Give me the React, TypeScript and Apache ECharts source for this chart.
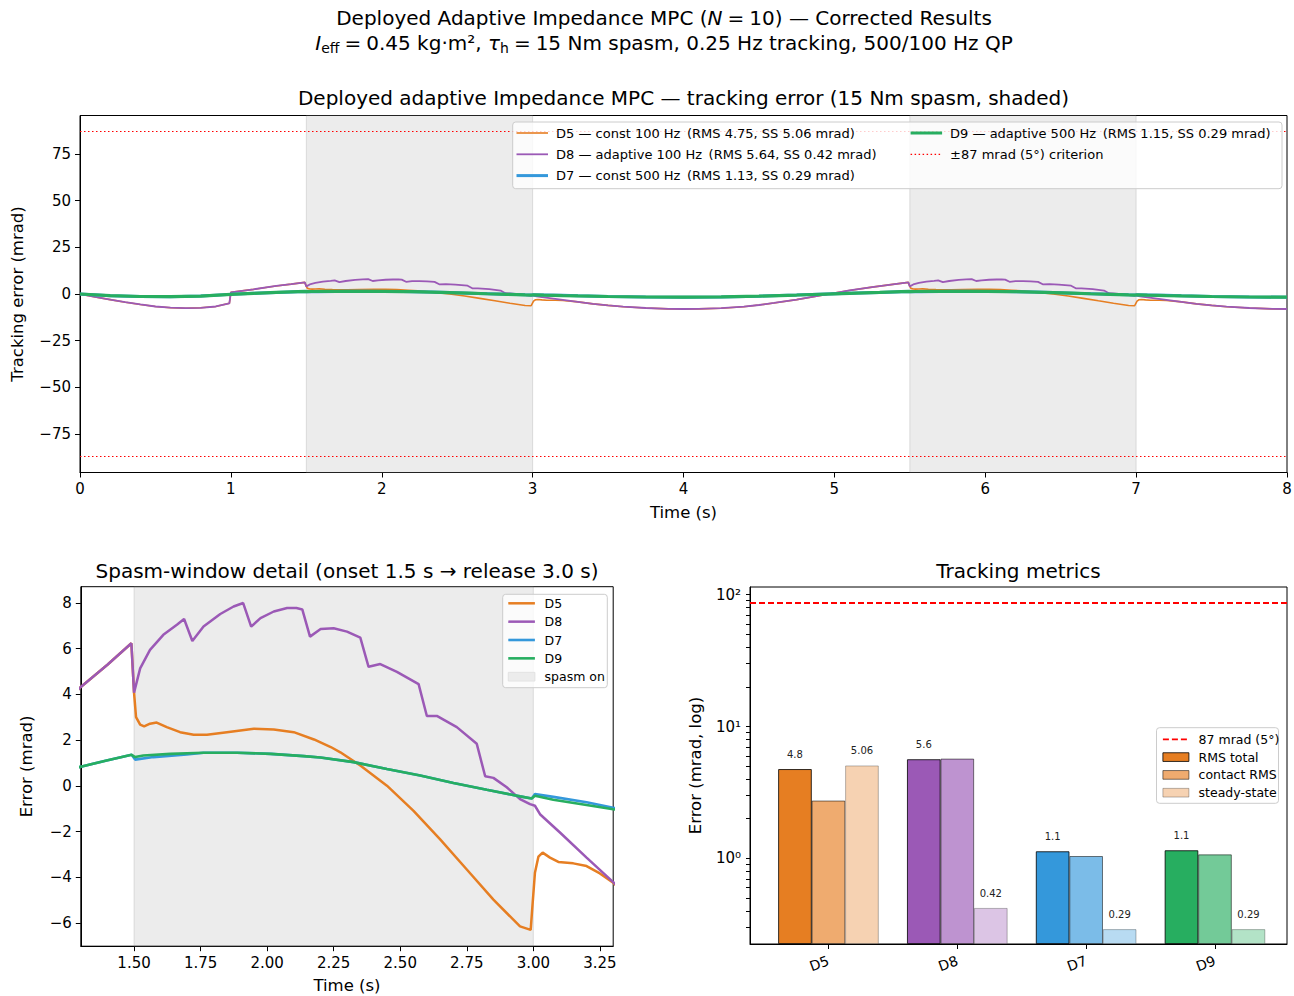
import React, { useEffect, useRef } from 'react';
import * as echarts from 'echarts';

// ---------------- data ----------------
const GROUPS = ['D5', 'D8', 'D7', 'D9'];
const DESCS = ['const 100 Hz', 'adaptive 100 Hz', 'const 500 Hz', 'adaptive 500 Hz'];
const RMS_TOTAL = [4.75, 5.64, 1.13, 1.15];
const CONTACT_RMS = [2.74, 5.7, 1.04, 1.07];
const STEADY_STATE = [5.06, 0.42, 0.29, 0.29];
const CRITERION = 87;
const SPASM_WINDOWS = [[1.5, 3.0], [5.5, 7.0]];

const TOP_X_TICKS = [0, 1, 2, 3, 4, 5, 6, 7, 8];
const TOP_Y_TICKS = [-75, -50, -25, 0, 25, 50, 75];
const DETAIL_X_TICKS = [1.5, 1.75, 2.0, 2.25, 2.5, 2.75, 3.0, 3.25];
const DETAIL_Y_TICKS = [-6, -4, -2, 0, 2, 4, 6, 8];
const LOG_MAJOR = [1, 10, 100];
const LOG_MINOR = [0.3, 0.4, 0.5, 0.6, 0.7, 0.8, 0.9, 2, 3, 4, 5, 6, 7, 8, 9, 20, 30, 40, 50, 60, 70, 80, 90];

// D5 and D8 (both 100 Hz) coincide outside the spasm windows
const D58_PRE = [[0, 0], [0.1, -1.6], [0.2, -3.0], [0.3, -4.4], [0.4, -5.6], [0.5, -6.7], [0.6, -7.35], [0.7, -7.6], [0.8, -7.4], [0.9, -6.7], [0.99, -5.0], [1.0, 0.9], [1.15, 2.5], [1.3, 4.33], [1.4, 5.3], [1.49, 6.24]];
const D58_MID = [[3.4, -5.3], [3.5, -6.1], [3.6, -6.8], [3.75, -7.5], [3.9, -7.95], [4.0, -8.05], [4.1, -8.0], [4.25, -7.6], [4.4, -6.8], [4.5, -5.9], [4.6, -4.8], [4.75, -3.0], [4.9, -0.9], [5.0, 0.5], [5.1, 1.9], [5.25, 3.7], [5.4, 5.3], [5.49, 6.24]];
const D58_TAIL = [[7.4, -5.3], [7.5, -6.1], [7.6, -6.8], [7.75, -7.5], [7.9, -7.95], [8.0, -8.05]];

const D8_SPASM1 = [[1.5, 4.08], [1.523, 5.14], [1.56, 5.95], [1.61, 6.61], [1.661, 7.05], [1.688, 7.3], [1.719, 6.34], [1.761, 6.97], [1.824, 7.52], [1.874, 7.85], [1.91, 8.0], [1.94, 6.97], [1.975, 7.34], [2.025, 7.63], [2.075, 7.78], [2.11, 7.78], [2.132, 7.72], [2.161, 6.53], [2.201, 6.86], [2.25, 6.9], [2.3, 6.75], [2.35, 6.49], [2.381, 5.21], [2.425, 5.33], [2.4875, 4.99], [2.569, 4.45], [2.6, 3.06], [2.6375, 3.06], [2.7125, 2.57], [2.7875, 1.84], [2.819, 0.42], [2.85, 0.35], [2.9, -0.06], [2.95, -0.58], [2.9875, -0.8], [3.006, -0.87], [3.025, -1.24], [3.1, -2.04], [3.2, -3.14], [3.3, -4.21]];
const D8_SPASM2 = [[5.5, 4.08], [5.523, 5.14], [5.56, 5.95], [5.61, 6.61], [5.661, 7.05], [5.688, 7.3], [5.719, 6.34], [5.761, 6.97], [5.824, 7.52], [5.874, 7.85], [5.91, 8.0], [5.94, 6.97], [5.975, 7.34], [6.025, 7.63], [6.075, 7.78], [6.11, 7.78], [6.132, 7.72], [6.161, 6.53], [6.201, 6.86], [6.25, 6.9], [6.3, 6.75], [6.35, 6.49], [6.381, 5.21], [6.425, 5.33], [6.4875, 4.99], [6.569, 4.45], [6.6, 3.06], [6.6375, 3.06], [6.7125, 2.57], [6.7875, 1.84], [6.819, 0.42], [6.85, 0.35], [6.9, -0.06], [6.95, -0.58], [6.9875, -0.8], [7.006, -0.87], [7.025, -1.24], [7.1, -2.04], [7.2, -3.14], [7.3, -4.21]];

const D5_SPASM1 = [[1.5, 4.08], [1.5075, 3.01], [1.523, 2.68], [1.538, 2.6], [1.56, 2.72], [1.585, 2.77], [1.623, 2.57], [1.673, 2.35], [1.724, 2.24], [1.774, 2.24], [1.849, 2.35], [1.95, 2.5], [2.025, 2.47], [2.1, 2.35], [2.176, 2.03], [2.239, 1.7], [2.275, 1.47], [2.35, 0.89], [2.45, 0.01], [2.55, -1.09], [2.65, -2.34], [2.75, -3.66], [2.85, -4.98], [2.95, -6.15], [2.99, -6.3], [2.9975, -5.12], [3.006, -3.8], [3.019, -3.1], [3.035, -2.92], [3.0625, -3.14], [3.094, -3.33], [3.15, -3.39], [3.2, -3.51], [3.25, -3.83], [3.3, -4.24]];
const D5_SPASM2 = [[5.5, 4.08], [5.5075, 3.01], [5.523, 2.68], [5.538, 2.6], [5.56, 2.72], [5.585, 2.77], [5.623, 2.57], [5.673, 2.35], [5.724, 2.24], [5.774, 2.24], [5.849, 2.35], [5.95, 2.5], [6.025, 2.47], [6.1, 2.35], [6.176, 2.03], [6.239, 1.7], [6.275, 1.47], [6.35, 0.89], [6.45, 0.01], [6.55, -1.09], [6.65, -2.34], [6.75, -3.66], [6.85, -4.98], [6.95, -6.15], [6.99, -6.3], [6.9975, -5.12], [7.006, -3.8], [7.019, -3.1], [7.035, -2.92], [7.0625, -3.14], [7.094, -3.33], [7.15, -3.39], [7.2, -3.51], [7.25, -3.83], [7.3, -4.24]];

// D7 and D9 (both 500 Hz) coincide outside the spasm edges
const D79_PRE = [[0, 0], [0.2, -0.9], [0.4, -1.35], [0.6, -1.45], [0.8, -1.1], [1.0, -0.2], [1.15, 0.35], [1.3, 0.84], [1.397, 1.11], [1.491, 1.36]];
const D79_MID = [[3.5, -1.35], [3.75, -1.62], [4.0, -1.72], [4.25, -1.55], [4.5, -1.15], [4.75, -0.55], [5.0, 0.1], [5.15, 0.5], [5.3, 0.84], [5.397, 1.11], [5.491, 1.36]];
const D79_TAIL = [[7.5, -1.35], [7.75, -1.62], [8.0, -1.72]];

const D9_SPASM1 = [[1.504, 1.26], [1.535, 1.33], [1.636, 1.4], [1.761, 1.45], [1.887, 1.45], [2.013, 1.4], [2.138, 1.3], [2.2, 1.24], [2.325, 1.04], [2.45, 0.74], [2.575, 0.45], [2.7, 0.13], [2.825, -0.17], [2.95, -0.46], [2.994, -0.55], [3.006, -0.43], [3.075, -0.61], [3.2, -0.84], [3.3, -1.02]];
const D9_SPASM2 = [[5.504, 1.26], [5.535, 1.33], [5.636, 1.4], [5.761, 1.45], [5.887, 1.45], [6.013, 1.4], [6.138, 1.3], [6.2, 1.24], [6.325, 1.04], [6.45, 0.74], [6.575, 0.45], [6.7, 0.13], [6.825, -0.17], [6.95, -0.46], [6.994, -0.55], [7.006, -0.43], [7.075, -0.61], [7.2, -0.84], [7.3, -1.02]];
const D7_SPASM1 = [[1.504, 1.15], [1.573, 1.26], [1.698, 1.37], [1.761, 1.45], [1.887, 1.45], [2.013, 1.4], [2.138, 1.3], [2.2, 1.24], [2.325, 1.04], [2.45, 0.74], [2.575, 0.45], [2.7, 0.13], [2.825, -0.17], [2.95, -0.46], [2.994, -0.55], [3.006, -0.36], [3.075, -0.48], [3.2, -0.72], [3.3, -0.96]];
const D7_SPASM2 = [[5.504, 1.15], [5.573, 1.26], [5.698, 1.37], [5.761, 1.45], [5.887, 1.45], [6.013, 1.4], [6.138, 1.3], [6.2, 1.24], [6.325, 1.04], [6.45, 0.74], [6.575, 0.45], [6.7, 0.13], [6.825, -0.17], [6.95, -0.46], [6.994, -0.55], [7.006, -0.36], [7.075, -0.48], [7.2, -0.72], [7.3, -0.96]];

const D5 = [...D58_PRE, ...D5_SPASM1, ...D58_MID, ...D5_SPASM2, ...D58_TAIL];
const D8 = [...D58_PRE, ...D8_SPASM1, ...D58_MID, ...D8_SPASM2, ...D58_TAIL];
const D7 = [...D79_PRE, ...D7_SPASM1, ...D79_MID, ...D7_SPASM2, ...D79_TAIL];
const D9 = [...D79_PRE, ...D9_SPASM1, ...D79_MID, ...D9_SPASM2, ...D79_TAIL];
const SERIES_DATA = [D5, D8, D7, D9];

// ---------------- styling ----------------
const FONT = 'DejaVu Sans';
const COLORS = ['#e67e22', '#9b59b6', '#3498db', '#27ae60'];
const TOP_WIDTHS = [1.6, 1.8, 3.0, 3.2];
const DETAIL_WIDTHS = [2.5, 2.5, 2.6, 2.6];
const CONTACT_ALPHA = 0.65;
const SS_ALPHA = 0.35;
const TICK_FS = 15;
const NAME_FS = 16.5;
const TITLE_FS = 20;

function blend(hex: string, a: number) {
  const n = parseInt(hex.slice(1), 16);
  const r = (n >> 16) & 255, g = (n >> 8) & 255, b = n & 255;
  const f = (c: number) => Math.round(c * a + 255 * (1 - a));
  return `rgb(${f(r)},${f(g)},${f(b)})`;
}
const minus = (v: number) => (v < 0 ? '\u2212' + Math.abs(v) : String(v));
const SUP: Record<string, string> = { '-': '\u207b', '0': '\u2070', '1': '\u00b9', '2': '\u00b2', '3': '\u00b3' };
const logLabel = (v: number) => {
  const e = Math.log10(v);
  if (Math.abs(e - Math.round(e)) > 1e-6) return '';
  return '10' + String(Math.round(e)).split('').map((c) => SUP[c] ?? c).join('');
};

const TOP_NAMES = GROUPS.map((g, i) => `${g} \u2014 ${DESCS[i]}\u2002(RMS ${RMS_TOTAL[i].toFixed(2)}, SS ${STEADY_STATE[i].toFixed(2)} mrad)`);
const CRIT_NAME = `\u00b1${CRITERION} mrad (5\u00b0) criterion`;
const CRIT_NAME_BR = `${CRITERION} mrad (5\u00b0)`;

const tickLabel = { color: '#000', fontSize: TICK_FS, fontFamily: FONT };
const axisNameStyle = { color: '#000', fontSize: NAME_FS, fontFamily: FONT };
const blackLine = { lineStyle: { color: '#000', width: 1 } };
const axisLineCfg = { show: true, onZero: false, lineStyle: { color: '#000', width: 1 } };
const NO_SYMBOL = { color: 'transparent', borderWidth: 0, opacity: 0 };

function buildOption() {
  const grids = [
    { left: 80, top: 115.5, width: 1207, height: 357 },
    { left: 80.8, top: 586.7, width: 532.4, height: 359.5 },
    { left: 750, top: 587, width: 537, height: 357 },
  ].map((g) => ({ ...g, show: true, borderColor: '#000', borderWidth: 1, backgroundColor: 'transparent', containLabel: false, outerBoundsMode: 'none' }));

  const xAxis = [
    {
      gridIndex: 0, type: 'value', min: 0, max: 8, interval: 1,
      axisLine: axisLineCfg, axisTick: { show: true, length: 5, ...blackLine },
      axisLabel: { ...tickLabel, margin: 9, customValues: TOP_X_TICKS, formatter: (v: number) => String(v) },
      splitLine: { show: false },
      name: 'Time (s)', nameLocation: 'middle', nameGap: 31, nameTextStyle: axisNameStyle,
    },
    {
      gridIndex: 1, type: 'value', min: 1.3, max: 3.3,
      axisLine: axisLineCfg, axisTick: { show: true, length: 5, customValues: DETAIL_X_TICKS, ...blackLine },
      axisLabel: { ...tickLabel, margin: 9, customValues: DETAIL_X_TICKS, formatter: (v: number) => v.toFixed(2) },
      splitLine: { show: false },
      name: 'Time (s)', nameLocation: 'middle', nameGap: 31, nameTextStyle: axisNameStyle,
    },
    {
      gridIndex: 2, type: 'value', min: -0.609, max: 3.559,
      axisLine: axisLineCfg, axisTick: { show: true, length: 5, customValues: [0, 1, 2, 3], ...blackLine },
      axisLabel: { ...tickLabel, fontSize: 14, margin: 16, rotate: 20, customValues: [0, 1, 2, 3], formatter: (v: number) => GROUPS[Math.round(v)] ?? '' },
      splitLine: { show: false },
    },
  ];

  const LOG_ALL = [...LOG_MAJOR, ...LOG_MINOR].sort((a, b) => a - b);
  const yAxis = [
    {
      gridIndex: 0, type: 'value', min: -95.7, max: 95.7, position: 'left',
      axisLine: axisLineCfg, axisTick: { show: true, length: 5, customValues: TOP_Y_TICKS, ...blackLine },
      axisLabel: { ...tickLabel, margin: 9, customValues: TOP_Y_TICKS, formatter: minus },
      splitLine: { show: false },
      name: 'Tracking error (mrad)', nameLocation: 'middle', nameGap: 54, nameTextStyle: axisNameStyle,
    },
    {
      gridIndex: 1, type: 'value', min: -7.015, max: 8.715, position: 'left',
      axisLine: axisLineCfg, axisTick: { show: true, length: 5, customValues: DETAIL_Y_TICKS, ...blackLine },
      axisLabel: { ...tickLabel, margin: 9, customValues: DETAIL_Y_TICKS, formatter: minus },
      splitLine: { show: false },
      name: 'Error (mrad)', nameLocation: 'middle', nameGap: 46, nameTextStyle: axisNameStyle,
    },
    {
      gridIndex: 2, type: 'log', logBase: 10, min: 0.224, max: 114.4, startValue: 0.224, position: 'left',
      axisLine: axisLineCfg, axisTick: { show: true, length: 4, customValues: LOG_ALL, ...blackLine },
      axisLabel: { ...tickLabel, margin: 9, customValues: LOG_ALL, formatter: logLabel, showMinLabel: true, showMaxLabel: true, hideOverlap: false },
      splitLine: { show: false }, minorTick: { show: false },
      name: 'Error (mrad, log)', nameLocation: 'middle', nameGap: 46, nameTextStyle: axisNameStyle,
    },
  ];

  const spasmArea = (windows: number[][]) => ({
    silent: true,
    itemStyle: { color: 'rgba(128,128,128,0.15)', borderColor: 'rgba(128,128,128,0.22)', borderWidth: 1 },
    data: windows.map(([a, b]) => [{ xAxis: a }, { xAxis: b }]),
  });

  const line = (name: string, data: number[][], color: string, width: number, idx: number, extra: any = {}) => ({
    type: 'line', name, data, xAxisIndex: idx, yAxisIndex: idx, symbol: 'none', showSymbol: false,
    lineStyle: { color, width }, itemStyle: { color }, silent: true, animation: false, ...extra,
  });

  const series: any[] = [];
  // top panel
  SERIES_DATA.forEach((d, i) => {
    const extra: any = {};
    if (i === 0) {
      extra.markArea = spasmArea(SPASM_WINDOWS);
      extra.markLine = {
        silent: true, symbol: ['none', 'none'], label: { show: false },
        lineStyle: { color: '#ff0000', width: 1.2, type: [1.5, 2.5] },
        data: [{ yAxis: CRITERION }, { yAxis: -CRITERION }],
      };
    }
    series.push(line(TOP_NAMES[i], d, COLORS[i], TOP_WIDTHS[i], 0, extra));
  });
  series.push(line(CRIT_NAME, [], '#ff0000', 1.2, 0, { lineStyle: { color: '#ff0000', width: 1.2, type: [1.5, 2.5] } }));

  // detail panel
  SERIES_DATA.forEach((d, i) => {
    const extra: any = {};
    if (i === 0) extra.markArea = spasmArea(SPASM_WINDOWS.filter(([a]) => a < 3.3));
    series.push(line(GROUPS[i], d, COLORS[i], DETAIL_WIDTHS[i], 1, extra));
  });
  series.push(line('spasm on', [], '#ececec', 1, 1, { itemStyle: { color: '#ececec', borderColor: '#dedede', borderWidth: 1 } }));

  // metrics panel
  const barBase = { type: 'bar', xAxisIndex: 2, yAxisIndex: 2, barWidth: 33.5, barGap: '0%', silent: true, animation: false };
  const barLabel = (fmt: (v: number) => string) => ({
    show: true, position: 'top', distance: 10, fontSize: 10, color: '#222', fontFamily: FONT,
    formatter: (p: any) => fmt(p.value[1]),
  });
  series.push({
    ...barBase, name: 'RMS total',
    itemStyle: { color: COLORS[0], borderColor: '#000', borderWidth: 0.8 },
    data: RMS_TOTAL.map((v, i) => ({ value: [i, v], itemStyle: { color: COLORS[i] } })),
    label: barLabel((v) => v.toPrecision(2)),
    markLine: {
      silent: true, symbol: ['none', 'none'], label: { show: false },
      lineStyle: { color: '#ff0000', width: 1.8, type: [6, 3] },
      data: [{ yAxis: CRITERION }],
    },
  });
  series.push({
    ...barBase, name: 'contact RMS',
    itemStyle: { color: blend(COLORS[0], CONTACT_ALPHA), borderColor: `rgba(0,0,0,${CONTACT_ALPHA})`, borderWidth: 0.8 },
    data: CONTACT_RMS.map((v, i) => ({ value: [i, v], itemStyle: { color: blend(COLORS[i], CONTACT_ALPHA) } })),
  });
  series.push({
    ...barBase, name: 'steady-state',
    itemStyle: { color: blend(COLORS[0], SS_ALPHA), borderColor: `rgba(0,0,0,${SS_ALPHA})`, borderWidth: 0.8 },
    data: STEADY_STATE.map((v, i) => ({ value: [i, v], itemStyle: { color: blend(COLORS[i], SS_ALPHA) } })),
    label: barLabel((v) => v.toFixed(2)),
  });
  series.push(line(CRIT_NAME_BR, [], '#ff0000', 1.8, 2, { lineStyle: { color: '#ff0000', width: 1.8, type: [6, 3] } }));

  const legendText = (fs: number, padLeft: number) => ({ color: '#000', fontSize: fs, fontFamily: FONT, lineHeight: 14, padding: [0, 0, 0, padLeft] });
  const lineItem = (name: string, width: number, color: string, type: any = 'solid') => ({ name, itemStyle: NO_SYMBOL, lineStyle: { width, color, type } });
  const rectItem = (name: string, color: string, border: string) => ({ name, icon: 'rect', itemStyle: { color, borderColor: border, borderWidth: 0.8 } });
  const legendBase = { orient: 'vertical', padding: 0, selectedMode: false, z: 10 };
  const legend = [
    { ...legendBase, data: [0, 1, 2].map((i) => lineItem(TOP_NAMES[i], TOP_WIDTHS[i], COLORS[i])), left: 515, top: 126, itemWidth: 31.5, itemHeight: 10, itemGap: 7.3, textStyle: legendText(13, 3) },
    { ...legendBase, data: [lineItem(TOP_NAMES[3], TOP_WIDTHS[3], COLORS[3]), lineItem(CRIT_NAME, 1.2, '#ff0000', [1.5, 2.5])], left: 909, top: 126, itemWidth: 31.5, itemHeight: 10, itemGap: 7.3, textStyle: legendText(13, 3) },
    { ...legendBase, data: [...GROUPS.map((g, i) => lineItem(g, DETAIL_WIDTHS[i], COLORS[i])), rectItem('spasm on', '#ececec', '#dedede')], left: 507, top: 596.3, itemWidth: 26.6, itemHeight: 8.7, itemGap: 4.35, textStyle: legendText(12.5, 4.7) },
    {
      ...legendBase,
      data: [
        lineItem(CRIT_NAME_BR, 1.8, '#ff0000', [6, 3]),
        rectItem('RMS total', COLORS[0], '#000'),
        rectItem('contact RMS', blend(COLORS[0], CONTACT_ALPHA), `rgba(0,0,0,${CONTACT_ALPHA})`),
        rectItem('steady-state', blend(COLORS[0], SS_ALPHA), `rgba(0,0,0,${SS_ALPHA})`),
      ],
      left: 1162, top: 732.3, itemWidth: 26, itemHeight: 8.7, itemGap: 3.8, textStyle: legendText(12.5, 4.7),
    },
  ];

  const titleStyle = (text: string, x: number, y: number, size = TITLE_FS, rich?: any) => ({
    type: 'text', x, y, z: 20, silent: true,
    style: { text, fill: '#000', fontSize: size, fontFamily: FONT, align: 'center', verticalAlign: 'middle', textAlign: 'center', textVerticalAlign: 'middle', lineHeight: 24, rich },
  });
  const rich = {
    it: { fontStyle: 'italic', fontSize: TITLE_FS, fontFamily: FONT, fill: '#000', lineHeight: 24 },
    sub: { fontSize: 14, fontFamily: FONT, fill: '#000', lineHeight: 13, verticalAlign: 'bottom' },
  };
  const frame = (x: number, y: number, w: number, h: number) => ({
    type: 'rect', z: 8, silent: true, shape: { x, y, width: w, height: h, r: 3 },
    style: { fill: 'rgba(255,255,255,0.8)', stroke: '#cccccc', lineWidth: 1 },
  });
  const EQ = '\u2005=\u2005';

  const graphic = [
    titleStyle(`Deployed Adaptive Impedance MPC ({it|N}${EQ}10) \u2014 Corrected Results`, 664, 18, TITLE_FS, rich),
    titleStyle(`{it|I}{sub|eff}${EQ}0.45 kg\u00b7m\u00b2, {it|\u03c4}{sub|h}${EQ}15 Nm spasm, 0.25 Hz tracking, 500/100 Hz QP`, 664, 43, TITLE_FS, rich),
    titleStyle('Deployed adaptive Impedance MPC \u2014 tracking error (15 Nm spasm, shaded)', 683.5, 98),
    titleStyle('Spasm-window detail (onset 1.5 s \u2192 release 3.0 s)', 347, 571),
    titleStyle('Tracking metrics', 1018.5, 571),
    frame(512.7, 122, 769.3, 66.7),
    frame(502.7, 594.3, 104.6, 93.4),
    frame(1156.5, 727.7, 122, 75.6),
  ];

  return { animation: false, backgroundColor: '#ffffff', textStyle: { fontFamily: FONT }, grid: grids, xAxis, yAxis, series, legend, graphic };
}

export default function App() {
  const ref = useRef<HTMLDivElement>(null);
  useEffect(() => {
    if (!ref.current) return;
    const chart = echarts.init(ref.current, null, { renderer: 'svg' });
    chart.setOption(buildOption() as any);
    return () => chart.dispose();
  }, []);
  return <div ref={ref} style={{ position: 'fixed', left: 0, top: 0, width: 1294, height: 996, background: '#fff' }} />;
}
